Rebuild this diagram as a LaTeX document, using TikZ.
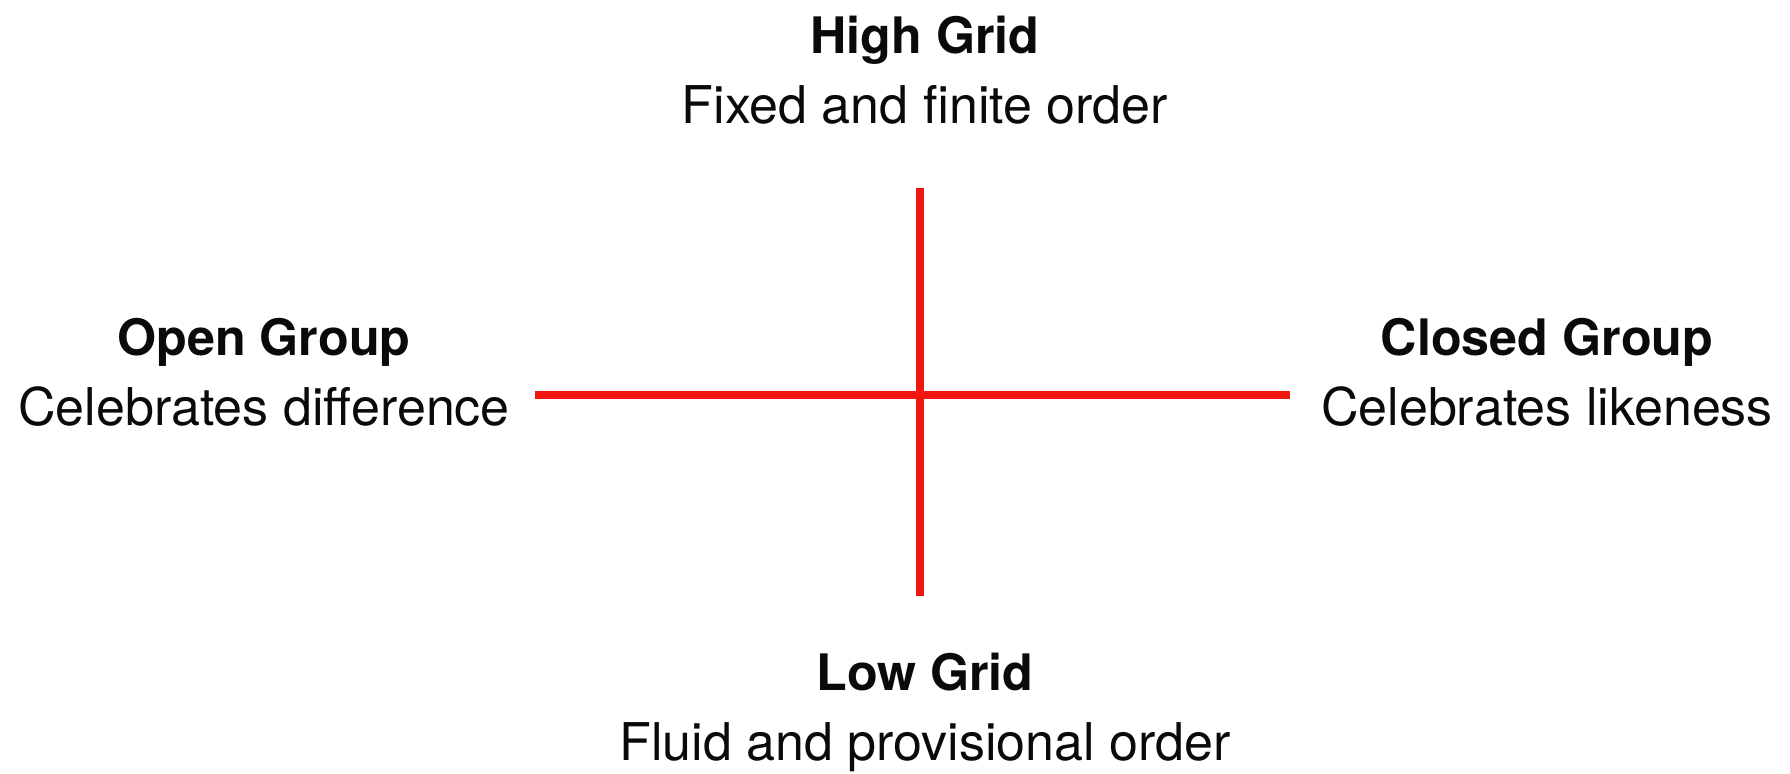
\documentclass[tikz,border=0pt]{standalone}
\usepackage{fontspec}
\setmainfont{TeX Gyre Heros}
\usetikzlibrary{positioning}
\definecolor{axisred}{RGB}{242, 22, 16}
\definecolor{darktext}{RGB}{10, 10, 10}

\begin{document}
\begin{tikzpicture}[
  pole/.style={anchor=base, inner sep=0pt, font=\fontsize{14.3}{17}\selectfont\bfseries, color=darktext},
  gloss/.style={anchor=base, inner sep=0pt, font=\fontsize{14.8}{17}\selectfont, color=darktext},
  axis/.style={line width=2pt, color=axisred}
]
  \useasboundingbox (-9.20,-3.78) rectangle (8.70,3.95);

  % Axis ends
  \coordinate (N) at (0,2.07);
  \coordinate (S) at (0,-2.01);
  \coordinate (W) at (-3.85,0);
  \coordinate (E) at (3.70,0);

  % Labels
  \node[pole]  (high)   at (0.05,3.42)  {High Grid};
  \node[gloss] (fixed)  at (0.05,2.72)  {Fixed and finite order};
  \node[pole]  (open)   at (-6.56,0.40) {Open Group};
  \node[gloss] (diff)   at (-6.56,-0.30) {Celebrates difference};
  \node[pole]  (closed) at (6.27,0.40)  {Closed Group};
  \node[gloss] (like)   at (6.27,-0.30) {Celebrates likeness};
  \node[pole]  (low)    at (0.05,-2.95) {Low Grid};
  \node[gloss] (fluid)  at (0.05,-3.65) {Fluid and provisional order};

  % Axes
  \draw[axis] (N) -- (S);
  \draw[axis] (W) -- (E);
\end{tikzpicture}
\end{document}
